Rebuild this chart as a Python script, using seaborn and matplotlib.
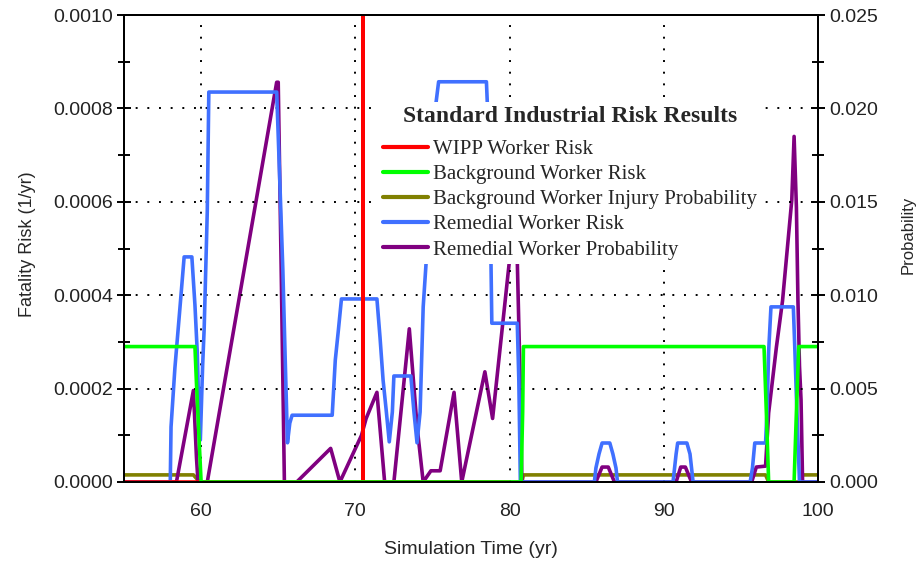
import numpy as np
import pandas as pd
import matplotlib
matplotlib.use("Agg")
import matplotlib.pyplot as plt
import seaborn as sns
from matplotlib.lines import Line2D
from matplotlib.ticker import MultipleLocator, FormatStrFormatter
from matplotlib.font_manager import FontProperties

# 데이터
# WIPP worker risk (1/yr)
wipp_t = [55, 70.49, 70.5, 70.5, 70.51, 80]
wipp_v = [0, 0, 0.0012, 0.0012, 0, 0]

# background worker risk (1/yr)
bg_t = [55, 59.6, 59.7, 59.8, 59.9, 60.0, 80.75, 80.85, 80.9, 96.5, 96.65, 96.8,
        98.45, 98.6, 98.75, 100]
bg_v = [0.00029, 0.00029, 0.00021, 0.00014, 0.00007, 0, 0, 0.00015, 0.00029, 0.00029,
        0.00015, 0, 0, 0.00015, 0.00029, 0.00029]

# background worker injury probability
bgi_t = [55, 59.5, 59.9, 80.8, 80.9, 96.6, 96.8, 98.9, 99.0, 100]
bgi_v = [0.00038, 0.00038, 0, 0, 0.00038, 0.00038, 0, 0, 0.00038, 0.00038]

# remedial worker risk (1/yr)
rem_t = [55, 58.0, 58.05, 58.3, 58.6, 58.9, 59.4, 59.6, 59.75, 59.9, 59.95, 60.1, 60.2,
         60.4, 60.5, 64.9, 65.1, 65.3, 65.45, 65.6, 65.75, 65.9, 68.5, 68.7, 68.9,
         69.1, 71.4, 71.6, 71.8, 72.0, 72.2, 72.4, 72.5, 73.6, 73.8, 74.0, 74.2, 74.4,
         74.6, 75.0, 75.4, 78.5, 78.7, 78.85, 80.5, 80.6, 80.7,
         85.5, 85.6, 85.8, 86.0, 86.5, 86.7, 86.9, 87.0,
         90.6, 90.7, 90.8, 90.9, 91.5, 91.7, 91.8, 91.9,
         95.6, 95.75, 95.9, 96.6, 96.7, 96.8, 96.95, 98.4, 98.5, 98.6, 98.7, 98.8, 100]
rem_v = [0, 0, 0.000118, 0.000244, 0.000362, 0.000482, 0.000482, 0.000379, 0.000278,
         0.00009, 0.00009, 0.00025, 0.00033, 0.00058, 0.000835, 0.000835, 0.000647,
         0.000454, 0.000266, 0.000084, 0.000126, 0.000143, 0.000143, 0.000261, 0.000325,
         0.000392, 0.000392, 0.00031, 0.000218, 0.000154, 0.000086, 0.00015, 0.000227,
         0.000227, 0.00015, 0.000084, 0.00015, 0.000375, 0.000475, 0.00075, 0.000857,
         0.000857, 0.0007, 0.00034, 0.00034, 0.00022, 0,
         0, 0.00003, 0.00006, 0.0000835, 0.0000835, 0.00006, 0.00003, 0,
         0, 0.00003, 0.00006, 0.0000835, 0.0000835, 0.00006, 0.00003, 0,
         0, 0.00003, 0.0000835, 0.0000835, 0.000154, 0.00028, 0.000375, 0.000375,
         0.000283, 0.000182, 0.00009, 0, 0]

# remedial worker probability
remp_t = [55, 58.4, 59.5, 59.7, 59.8, 60.4, 64.9, 65.0, 65.2, 65.4, 66.2, 68.4, 69.0,
          70.4, 70.7, 71.4, 71.9, 72.5, 73.5, 74.0, 74.4, 74.9, 75.5, 76.4, 76.9,
          78.4, 78.9, 80.0, 80.3, 80.5, 80.7, 80.8,
          85.6, 86.0, 86.4, 86.8, 90.8, 91.1, 91.4, 91.8,
          95.7, 96.0, 96.6, 96.8, 97.3, 97.7, 98.0, 98.3, 98.45, 98.6, 98.7, 98.8,
          98.9, 99.0, 100]
remp_v = [0, 0, 0.0049, 0.0013, 0, 0, 0.0214, 0.0214, 0.011, 0, 0, 0.0018, 0,
          0.0025, 0.0034, 0.0048, 0, 0, 0.0082, 0.003, 0, 0.0006, 0.0006, 0.0048, 0,
          0.0059, 0.0034, 0.0119, 0.014, 0.0119, 0.005, 0,
          0, 0.0008, 0.0008, 0, 0, 0.0008, 0.0008, 0,
          0, 0.0008, 0.00085, 0.0037, 0.0072, 0.0097, 0.0124, 0.0151, 0.0185, 0.0147,
          0.0097, 0.0062, 0.0044, 0, 0]

labels = ["WIPP Worker Risk", "Background Worker Risk",
          "Background Worker Injury Probability", "Remedial Worker Risk",
          "Remedial Worker Probability"]
colors = ["#ff0000", "#00ff00", "#808000", "#4070ff", "#800080"]

sns.set_style("white")
plt.rcParams["font.family"] = ["Liberation Sans", "DejaVu Sans"]

fig = plt.figure(figsize=(9.19, 5.66), dpi=100)
ax = fig.add_axes([124 / 919, 1 - 482 / 566, (818 - 124) / 919, (482 - 15) / 566])
ax2 = ax.twinx()
ax.set_zorder(ax2.get_zorder() + 1)
ax.patch.set_visible(False)

lw = 2.6
kw = dict(linewidth=lw, sort=False, estimator=None)
# 오른쪽 축 (확률)
sns.lineplot(x=bgi_t, y=bgi_v, ax=ax2, color=colors[2], **kw)
sns.lineplot(x=remp_t, y=remp_v, ax=ax2, color=colors[4], **kw)
# 왼쪽 축 (위험도)
sns.lineplot(x=rem_t, y=rem_v, ax=ax, color=colors[3], **kw)
sns.lineplot(x=wipp_t, y=wipp_v, ax=ax, color=colors[0], **kw)
sns.lineplot(x=bg_t, y=bg_v, ax=ax, color=colors[1], **kw)

ax.set_xlim(55, 100)
ax.set_ylim(0, 0.0010)
ax2.set_ylim(0, 0.025)

ax.xaxis.set_major_locator(MultipleLocator(10))
ax.xaxis.set_minor_locator(MultipleLocator(5))
ax.yaxis.set_major_locator(MultipleLocator(0.0002))
ax.yaxis.set_minor_locator(MultipleLocator(0.0001))
ax.yaxis.set_major_formatter(FormatStrFormatter("%.4f"))
ax2.yaxis.set_major_locator(MultipleLocator(0.005))
ax2.yaxis.set_minor_locator(MultipleLocator(0.0025))
ax2.yaxis.set_major_formatter(FormatStrFormatter("%.3f"))

for a in (ax, ax2):
    for s in a.spines.values():
        s.set_color("black")
        s.set_linewidth(1.4)
    a.tick_params(which="major", direction="inout", length=10, width=1.4,
                  colors="black", labelcolor="#222222", labelsize=14)
    a.tick_params(which="minor", direction="inout", length=8, width=1.4, colors="black")
ax.tick_params(axis="x", pad=10)
ax.tick_params(axis="y", pad=3)
ax2.tick_params(axis="y", pad=3)

ax.grid(True, which="major", color="black", linestyle=(0, (1, 5)), linewidth=1.4)
ax2.grid(False)

ax.set_xlabel("Simulation Time (yr)", fontsize=14)
ax.set_ylabel("Fatality Risk (1/yr)", fontsize=13)
ax2.set_ylabel("Probability", fontsize=12)
ax.xaxis.set_label_coords(0.5, -0.126)
ax.yaxis.set_label_coords(-0.127, 0.51)
ax2.yaxis.set_label_coords(1.1196, 0.53)

handles = [Line2D([], [], color=c, linewidth=3) for c in colors]
leg = ax.legend(handles, labels, title="Standard Industrial Risk Results",
                loc="upper left", bbox_to_anchor=(379 / 919, 1 - 102 / 566),
                bbox_transform=fig.transFigure, frameon=True, framealpha=1,
                facecolor="white", edgecolor="none", fancybox=False,
                prop=FontProperties(family="Liberation Serif", size=15),
                title_fontproperties=FontProperties(family="Liberation Serif",
                                                    weight="bold", size=17),
                handlelength=2.15, labelspacing=0.264, borderpad=0.2,
                handletextpad=0.25, borderaxespad=0)
# 제목과 항목 사이 간격
leg._legend_box.sep = 9
leg.set_zorder(10)

fig.savefig("out.png", dpi=100)
